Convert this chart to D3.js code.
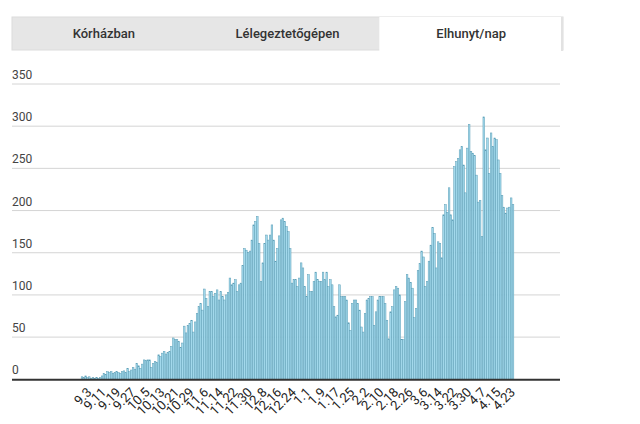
<!DOCTYPE html>
<html>
<head>
<meta charset="utf-8">
<script src="https://cdn.jsdelivr.net/npm/d3@7"></script>
<style>
  body { margin: 0; background: #fff; }
  svg { display: block; font-family: Roboto, "Noto Sans", sans-serif; }
</style>
</head>
<body>
<div id="chart"></div>
<script>
// tabs
const tabs = ["Kórházban", "Lélegeztetőgépen", "Elhunyt/nap"];
const activeTab = 2;

// daily deaths, 2020.08.30 - 2021.04.23
const startDay = new Date(2020, 7, 30);
const endDay = new Date(2021, 3, 24);
const deaths = [
  3,2,4,2,3,1,2,1,2,1,2,4,
  7,6,9,8,9,7,8,9,8,7,9,10,
  8,13,9,11,14,12,19,16,13,18,23,22,
  23,23,14,19,21,20,29,27,31,33,30,32,
  33,39,49,47,47,45,38,43,63,55,64,66,
  70,56,68,78,86,90,82,107,96,86,104,104,
  98,102,106,94,104,98,94,100,103,120,112,114,
  118,104,112,114,135,155,153,150,152,165,183,187,
  193,161,116,138,161,171,165,171,183,165,140,155,
  170,189,191,187,181,175,155,114,118,118,110,120,
  138,132,110,98,124,104,104,116,127,118,116,116,
  127,118,127,110,118,112,86,74,76,112,98,98,
  98,94,67,58,90,94,94,90,82,62,56,78,
  94,96,98,98,64,80,94,98,98,98,90,70,
  48,80,86,106,110,108,100,47,47,92,124,120,
  115,108,73,84,129,137,152,145,110,116,140,159,
  180,173,132,163,161,144,195,207,198,227,195,189,
  252,258,262,272,276,254,221,274,302,270,268,265,
  242,210,212,169,311,272,286,244,292,276,286,284,
  260,244,218,204,197,203,204,215,207
];

const tickLabels = ["9.3","9.11","9.19","9.27","10.5","10.13","10.21","10.29","11.6","11.14",
  "11.22","11.30","12.8","12.16","12.24","1.1","1.9","1.17","1.25","2.2",
  "2.10","2.18","2.26","3.6","3.14","3.22","3.30","4.7","4.15","4.23"];
const yTicks = [0, 50, 100, 150, 200, 250, 300, 350];

const fmt = d3.timeFormat("%-m.%-d");
const days = d3.timeDays(startDay, endDay).map(fmt);
const data = days.map((d, i) => ({ day: d, value: deaths[i] }));

const width = 640, height = 424;
const left = 12, right = 560;

const svg = d3.select("#chart").append("svg")
  .attr("width", width)
  .attr("height", height);

// tab bar
const tabX = d3.scaleBand().domain(tabs).range([12, 563]);
svg.append("rect")
  .attr("x", 12).attr("y", 17)
  .attr("width", 551).attr("height", 33)
  .attr("fill", "#e6e6e6")
  .attr("stroke", "#dcdcdc");
svg.append("rect")
  .attr("x", tabX(tabs[activeTab])).attr("y", 17)
  .attr("width", tabX.bandwidth() - 1).attr("height", 35)
  .attr("fill", "#fff");
svg.append("line")
  .attr("x1", 562).attr("x2", 562).attr("y1", 17).attr("y2", 51)
  .attr("stroke", "#e2e2e2").attr("stroke-width", 2);
svg.selectAll(".tab")
  .data(tabs)
  .join("text")
  .attr("x", d => tabX(d) + tabX.bandwidth() / 2)
  .attr("y", 38)
  .attr("text-anchor", "middle")
  .attr("font-size", 13)
  .attr("font-weight", 500)
  .attr("fill", "#333")
  .text(d => d);

const x = d3.scaleBand()
  .domain(days)
  .range([81, 514])
  .padding(0.1);

const y = d3.scaleLinear()
  .domain([0, 350])
  .range([379.3, 84]);

// gridlines + y labels
const grid = svg.append("g");
grid.selectAll("line")
  .data(yTicks.filter(d => d > 0))
  .join("line")
  .attr("x1", left).attr("x2", right)
  .attr("y1", d => y(d)).attr("y2", d => y(d))
  .attr("stroke", "#d4d4d4")
  .attr("stroke-width", 1);
grid.selectAll("text")
  .data(yTicks)
  .join("text")
  .attr("x", left)
  .attr("y", d => y(d) - 5)
  .attr("font-size", 12)
  .attr("fill", "#444")
  .text(d => d);

// bars
svg.append("g")
  .selectAll("rect")
  .data(data)
  .join("rect")
  .attr("x", d => x(d.day))
  .attr("y", d => y(d.value))
  .attr("width", x.bandwidth())
  .attr("height", d => y(0) - y(d.value))
  .attr("fill", "#a3d9ec")
  .attr("stroke", "#5b9db5")
  .attr("stroke-width", 0.5);

// baseline
svg.append("line")
  .attr("x1", left).attr("x2", right)
  .attr("y1", y(0) + 0.5).attr("y2", y(0) + 0.5)
  .attr("stroke", "#333")
  .attr("stroke-width", 2);

// x labels
svg.append("g")
  .selectAll("text")
  .data(tickLabels)
  .join("text")
  .attr("transform", d => `translate(${x(d) + x.bandwidth() / 2 + 3},393) rotate(-45)`)
  .attr("text-anchor", "end")
  .attr("font-size", 13)
  .attr("fill", "#222")
  .text(d => d);
</script>
</body>
</html>
